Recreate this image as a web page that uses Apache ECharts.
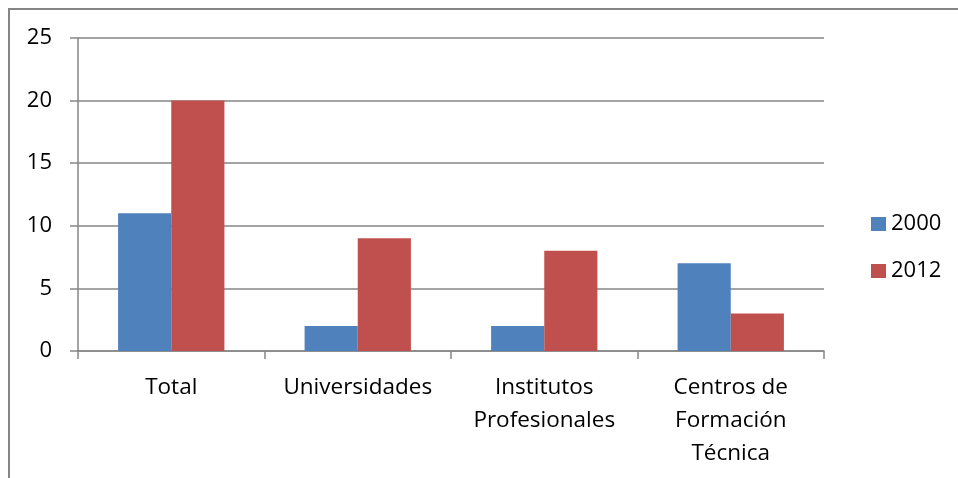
<!DOCTYPE html>
<html>
<head>
<meta charset="utf-8">
<script src="https://cdn.jsdelivr.net/npm/echarts@6/dist/echarts.min.js"></script>
<style>
  html, body { margin: 0; padding: 0; background: #fff; }
  #chart { width: 958px; height: 478px; }
</style>
</head>
<body>
<div id="chart"></div>
<script>
const categories = ['Total', 'Universidades', 'Institutos\nProfesionales', 'Centros de\nFormación\nTécnica'];
const values2000 = [11, 2, 2, 7];
const values2012 = [20, 9, 8, 3];
const seriesNames = ['2000', '2012'];

const gray = '#868686';
const font = '"Open Sans", sans-serif';

const chart = echarts.init(document.getElementById('chart'));
chart.setOption({
  animation: false,
  textStyle: { fontFamily: font },
  graphic: [{
    type: 'rect',
    shape: { x: 9, y: 9, width: 1000, height: 1000 },
    style: { fill: 'none', stroke: gray, lineWidth: 2 },
    silent: true
  }],
  grid: { left: 78, right: 134, top: 38, bottom: 127 },
  legend: {
    orient: 'vertical',
    left: 866,
    top: 208,
    itemWidth: 15,
    itemHeight: 14,
    itemGap: 25,
    icon: 'rect',
    textStyle: { fontSize: 22, color: '#000', fontFamily: font },
    data: seriesNames
  },
  xAxis: {
    type: 'category',
    data: categories,
    axisLine: { lineStyle: { color: gray, width: 1.5 } },
    axisTick: { show: true, length: 8, lineStyle: { color: gray, width: 1.5 } },
    axisLabel: { fontSize: 22.5, color: '#000', margin: 20, lineHeight: 33, interval: 0 }
  },
  yAxis: {
    type: 'value',
    min: 0,
    max: 25,
    interval: 5,
    axisLine: { show: true, lineStyle: { color: gray, width: 1.5 } },
    axisTick: { show: true, length: 8, lineStyle: { color: gray, width: 1.5 } },
    axisLabel: { fontSize: 22, color: '#000', margin: 26 },
    splitLine: { lineStyle: { color: gray, width: 1.5 } }
  },
  series: [{
    name: seriesNames[0],
    type: 'bar',
    data: values2000,
    barGap: '0%',
    barCategoryGap: '43%',
    itemStyle: { color: '#4F81BD' }
  }, {
    name: seriesNames[1],
    type: 'bar',
    data: values2012,
    barGap: '0%',
    barCategoryGap: '43%',
    itemStyle: { color: '#C0504D' }
  }]
});
</script>
</body>
</html>
